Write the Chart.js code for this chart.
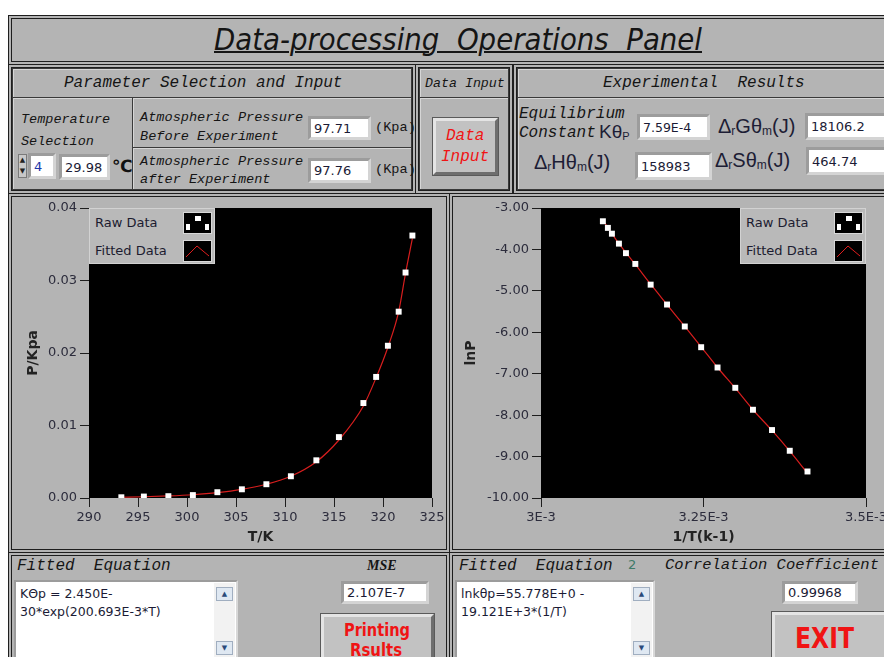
<!DOCTYPE html>
<html lang="en">
<head>
<meta charset="UTF-8">
<meta name="viewport" content="width=device-width, initial-scale=1.0">
<script src="https://cdn.jsdelivr.net/npm/chart.js@4.4.1/dist/chart.umd.min.js"></script>
<title>Data-processing Operations Panel</title>
<style>
body { margin:0; width:884px; height:657px; overflow:hidden; position:relative; background:#fff; font-family:"DejaVu Sans", sans-serif; }
#panel { position:absolute; left:8px; top:15px; width:900px; height:700px; background:#b4b4b4; }
.frm { position:absolute; box-sizing:border-box; border:4px double #1e1e1e; }
.cell { position:absolute; box-sizing:border-box; border:1px solid #3a3a3a; box-shadow:inset 1px 1px 0 #d6d6d6; }
.t { position:absolute; white-space:pre; line-height:1; }
.mono { font-family:"Liberation Mono","DejaVu Sans Mono",monospace; font-style:italic; color:#151515; }
.box { position:absolute; box-sizing:border-box; background:#fff; border:3px solid; border-color:#9c9c9c #d4d4d4 #d4d4d4 #9c9c9c; font-size:13px; color:#1b1b35; padding-left:3px; display:flex; align-items:center; white-space:pre; }
.btn { position:absolute; box-sizing:border-box; background:#c2c2c2; border:3px solid; border-color:#e4e4e4 #6e6e6e #6e6e6e #e4e4e4; outline:1px solid #5a5a5a; }
.sym { font-family:"Liberation Sans", sans-serif; font-size:20px; color:#1d1d35; }
.sym sub { font-size:12px; vertical-align:-2px; }
canvas { position:absolute; }
.lg { position:absolute; box-sizing:border-box; background:#b9b9b9; border:1px solid #d2d2d2; width:126px; height:56px; }
.lg span { position:absolute; left:5px; font-size:13px; color:#1c1c30; line-height:1; }
.lg svg { position:absolute; left:93px; }
.ta { position:absolute; box-sizing:border-box; background:#fff; border:2px solid; border-color:#9c9c9c #d8d8d8 #d8d8d8 #9c9c9c; font-size:12.5px; color:#1b1b35; }
.ta .line { position:absolute; left:4px; white-space:pre; line-height:1; }
.ta .sb { position:absolute; right:1px; top:1px; bottom:0; width:21px; background:#f2f2f2; }
.ta .ar { position:absolute; left:2px; width:15px; height:12px; background:#dfe8f2; border:1px solid #a0aec0; font-size:7px; text-align:center; color:#2a4a7a; line-height:12px; }
.red { color:#f01414; }
.narrow { font-family:"Liberation Sans Narrow","DejaVu Sans Condensed","Liberation Sans",sans-serif; }
</style>
</head>
<body>
<div id="panel"></div>

<!-- frames -->
<div class="frm" style="left:8px;top:15px;width:900px;height:50px"></div>
<div class="frm" style="left:8px;top:64px;width:408px;height:130px"></div>
<div class="frm" style="left:415px;top:64px;width:98px;height:130px"></div>
<div class="frm" style="left:513px;top:64px;width:400px;height:130px"></div>
<div class="frm" style="left:8px;top:193px;width:442px;height:360px"></div>
<div class="frm" style="left:449px;top:193px;width:460px;height:360px"></div>
<div class="frm" style="left:8px;top:552px;width:442px;height:120px"></div>
<div class="frm" style="left:449px;top:552px;width:460px;height:120px"></div>

<div class="cell" style="left:12px;top:68px;width:400px;height:30px"></div>
<div class="cell" style="left:12px;top:97px;width:121px;height:93px"></div>
<div class="cell" style="left:132px;top:97px;width:280px;height:51px"></div>
<div class="cell" style="left:132px;top:147px;width:280px;height:43px"></div>
<div class="cell" style="left:419px;top:68px;width:90px;height:30px"></div>
<div class="cell" style="left:419px;top:97px;width:90px;height:93px"></div>
<div class="cell" style="left:517px;top:68px;width:400px;height:30px"></div>
<div class="cell" style="left:517px;top:97px;width:400px;height:93px"></div>

<!-- title -->
<div id="ttl" class="t narrow" style="left:214px;top:24px;font-size:31px;font-style:italic;text-decoration:underline;text-decoration-thickness:2px;transform-origin:0 0;color:#151515">Data-processing  Operations  Panel</div>

<!-- parameter selection -->
<div class="t mono" style="left:64px;top:75px;font-size:16px">Parameter Selection and Input</div>
<div class="t mono" style="left:21px;top:113px;font-size:13.5px">Temperature</div>
<div class="t mono" style="left:21px;top:135px;font-size:13.5px">Selection</div>
<div style="position:absolute;left:18px;top:154px;width:9px;height:24px;background:#c8c8c8;border:1px solid #7a7a7a;box-sizing:border-box;font-size:7px;line-height:11px;text-align:center;color:#222">▲<br>▼</div>
<div class="box" style="left:28px;top:153px;width:28px;height:26px;color:#2036a8">4</div>
<div class="box" style="left:59px;top:154px;width:51px;height:26px">29.98</div>
<div class="t" style="left:112px;top:158px;font-size:17px;font-weight:bold;color:#111">℃</div>

<div class="t mono" style="left:140px;top:111px;font-size:13.6px">Atmospheric Pressure</div>
<div class="t mono" style="left:140px;top:130px;font-size:13.6px">Before Experiment</div>
<div class="box" style="left:308px;top:116px;width:63px;height:24px">97.71</div>
<div class="t mono" style="left:375px;top:121px;font-size:13.6px;font-style:normal">(Kpa)</div>
<div class="t mono" style="left:140px;top:155px;font-size:13.6px">Atmospheric Pressure</div>
<div class="t mono" style="left:140px;top:173px;font-size:13.6px">after Experiment</div>
<div class="box" style="left:308px;top:158px;width:63px;height:25px">97.76</div>
<div class="t mono" style="left:375px;top:163px;font-size:13.6px;font-style:normal">(Kpa)</div>

<!-- data input -->
<div class="t mono" style="left:425px;top:77px;font-size:13.3px">Data Input</div>
<div class="btn" style="left:433px;top:118px;width:65px;height:57px"></div>
<div class="t mono red" style="left:446px;top:128px;font-size:16px">Data</div>
<div class="t mono red" style="left:441px;top:149px;font-size:16px">Input</div>

<!-- experimental results -->
<div class="t mono" style="left:603px;top:75px;font-size:16px">Experimental  Results</div>
<div class="t mono" style="left:519px;top:106px;font-size:16px">Equilibrium</div>
<div class="t mono" style="left:519px;top:125px;font-size:16px">Constant</div>
<div class="t sym" style="left:599px;top:122px;font-size:19px">Kθ<sub style="font-size:11px">P</sub></div>
<div class="box" style="left:637px;top:114px;width:73px;height:26px;font-size:12.5px">7.59E-4</div>
<div class="t sym" style="left:718px;top:116px">Δ<sub>r</sub>Gθ<sub>m</sub>(J)</div>
<div class="box" style="left:805px;top:113px;width:90px;height:27px">18106.2</div>
<div class="t sym" style="left:534px;top:152px">Δ<sub>r</sub>Hθ<sub>m</sub>(J)</div>
<div class="box" style="left:635px;top:152px;width:77px;height:28px">158983</div>
<div class="t sym" style="left:715px;top:150px">Δ<sub>r</sub>Sθ<sub>m</sub>(J)</div>
<div class="box" style="left:806px;top:147px;width:90px;height:28px">464.74</div>

<!-- charts -->
<canvas id="chartP" width="432" height="348" style="left:12px;top:198px"></canvas>
<canvas id="chartLn" width="448" height="348" style="left:452px;top:198px"></canvas>

<div class="lg" style="left:89px;top:208px">
  <span style="top:7px">Raw Data</span>
  <svg style="top:3px" width="29" height="22"><rect x="0.5" y="0.5" width="28" height="21" fill="#000" stroke="#d8d8d8"/><rect x="12" y="4" width="6" height="5" fill="#fff"/><rect x="3" y="12" width="4" height="6" fill="#fff"/><rect x="22" y="12" width="4" height="6" fill="#fff"/></svg>
  <span style="top:35px">Fitted Data</span>
  <svg style="top:31px" width="29" height="22"><rect x="0.5" y="0.5" width="28" height="21" fill="#000" stroke="#d8d8d8"/><polyline points="3,17 14,6 26,16" fill="none" stroke="#e01e1e" stroke-width="1"/></svg>
</div>
<div class="lg" style="left:740px;top:208px">
  <span style="top:7px">Raw Data</span>
  <svg style="top:3px" width="29" height="22"><rect x="0.5" y="0.5" width="28" height="21" fill="#000" stroke="#d8d8d8"/><rect x="12" y="4" width="6" height="5" fill="#fff"/><rect x="3" y="12" width="4" height="6" fill="#fff"/><rect x="22" y="12" width="4" height="6" fill="#fff"/></svg>
  <span style="top:35px">Fitted Data</span>
  <svg style="top:31px" width="29" height="22"><rect x="0.5" y="0.5" width="28" height="21" fill="#000" stroke="#d8d8d8"/><polyline points="3,17 14,6 26,16" fill="none" stroke="#e01e1e" stroke-width="1"/></svg>
</div>

<!-- bottom left -->
<div class="t mono" style="left:17px;top:558px;font-size:16px">Fitted  Equation</div>
<div class="ta" style="left:14px;top:580px;width:224px;height:90px">
  <div class="line" style="top:6px">KΘp = 2.450E-</div>
  <div class="line" style="top:24px">30*exp(200.693E-3*T)</div>
  <div class="sb"><div class="ar" style="top:4px">▲</div><div class="ar" style="top:58px">▼</div></div>
</div>
<div class="t" style="left:367px;top:558px;font:italic bold 14px 'Liberation Serif',serif;color:#151515">MSE</div>
<div class="box" style="left:341px;top:581px;width:88px;height:23px">2.107E-7</div>
<div class="btn" style="left:321px;top:614px;width:113px;height:56px"></div>
<div id="pr1" class="t narrow red" style="left:344px;top:621px;font-size:18px;font-weight:bold;transform-origin:0 0">Printing</div>
<div id="pr2" class="t narrow red" style="left:350px;top:641px;font-size:18px;font-weight:bold;transform-origin:0 0">Rsults</div>

<!-- bottom right -->
<div class="t mono" style="left:459px;top:558px;font-size:16px">Fitted  Equation</div>
<div class="t" style="left:628px;top:558px;font-size:13px;color:#3f7a68">2</div>
<div class="ta" style="left:455px;top:580px;width:200px;height:90px">
  <div class="line" style="top:6px">lnkθp=55.778E+0 -</div>
  <div class="line" style="top:24px">19.121E+3*(1/T)</div>
  <div class="sb"><div class="ar" style="top:4px">▲</div><div class="ar" style="top:58px">▼</div></div>
</div>
<div class="t mono" style="left:665px;top:558px;font-size:15.5px">Correlation Coefficient</div>
<div class="box" style="left:782px;top:581px;width:76px;height:23px">0.99968</div>
<div class="btn" style="left:772px;top:612px;width:120px;height:60px"></div>
<div id="ex" class="t narrow red" style="left:795px;top:625px;font-size:28px;font-weight:bold;transform-origin:0 0">EXIT</div>

<script>
// raw and fitted data
var tempK  = [293.3, 295.6, 298.1, 300.6, 303.1, 305.6, 308.1, 310.6, 313.2, 315.5, 318.0, 319.3, 320.5, 321.6, 322.3, 323.0];
var pKpa   = [0.0001, 0.0002, 0.00025, 0.0004, 0.0008, 0.0012, 0.0019, 0.0030, 0.0052, 0.0084, 0.0131, 0.0167, 0.0210, 0.0257, 0.0311, 0.0362];
var pFit   = [0.0001, 0.00017, 0.00028, 0.00045, 0.00074, 0.0012, 0.0019, 0.0030, 0.0050, 0.0080, 0.0127, 0.0166, 0.0208, 0.0257, 0.0310, 0.0358];

var invT   = [0.0030952, 0.0031029, 0.0031091, 0.0031199, 0.0031307, 0.0031451, 0.0031687, 0.0031939, 0.0032212, 0.0032464, 0.0032716, 0.0032989, 0.0033261, 0.0033554, 0.0033827, 0.0034100];
var lnP    = [-3.32, -3.48, -3.62, -3.86, -4.09, -4.35, -4.85, -5.33, -5.86, -6.36, -6.85, -7.34, -7.87, -8.36, -8.86, -9.36];
var lnPFit = [-3.29, -3.47, -3.62, -3.86, -4.08, -4.36, -4.84, -5.33, -5.86, -6.35, -6.85, -7.35, -7.87, -8.37, -8.87, -9.40];

// tick labels
var tTicks = [290, 295, 300, 305, 310, 315, 320, 325];
var tLabels = ['290', '295', '300', '305', '310', '315', '320', '325'];
var pTicks = [0, 0.01, 0.02, 0.03, 0.04];
var pLabels = ['0.00', '0.01', '0.02', '0.03', '0.04'];
var invTTicks = [0.003, 0.00325, 0.0035];
var invTLabels = ['3E-3', '3.25E-3', '3.5E-3'];
var lnTicks = [-10, -9, -8, -7, -6, -5, -4, -3];
var lnLabels = ['-10.00', '-9.00', '-8.00', '-7.00', '-6.00', '-5.00', '-4.00', '-3.00'];

// black plot area
var plotBg = {
  id: 'plotBg',
  beforeDraw: function(chart) {
    var a = chart.chartArea, ctx = chart.ctx;
    ctx.save();
    ctx.fillStyle = '#000';
    ctx.fillRect(a.left, a.top, a.right - a.left, a.bottom - a.top);
    ctx.restore();
  }
};

function axis(min, max, vals, labels, title, titlePad, size, horiz) {
  return {
    type: 'linear', min: min, max: max,
    afterBuildTicks: function(s) { s.ticks = vals.map(function(v) { return {value: v}; }); },
    afterFit: function(s) {
      if (horiz) s.height = size; else s.width = size;
      s.paddingLeft = 0; s.paddingRight = 0; s.paddingTop = 0; s.paddingBottom = 0;
    },
    ticks: { autoSkip: false, maxRotation: 0, padding: 3, color: '#2c2c3c',
             font: {family: 'DejaVu Sans', size: 13},
             callback: function(v, i) { return labels[i]; } },
    grid: { drawOnChartArea: false, tickLength: 9, color: '#1e1e1e', lineWidth: 1 },
    border: { display: false },
    title: { display: true, text: title, color: '#222',
             font: {family: 'DejaVu Sans', size: 14, weight: 'bold'},
             padding: {top: titlePad, bottom: 0} }
  };
}

function BuildChart(id, xs, ys, fit, xAxis, yAxis, padRight) {
  var raw = xs.map(function(x, i) { return {x: x, y: ys[i]}; });
  var line = xs.map(function(x, i) { return {x: x, y: fit[i]}; });
  return new Chart(document.getElementById(id), {
    type: 'scatter',
    data: {
      datasets: [
        { label: 'Raw Data', data: raw, pointStyle: 'rect', pointRadius: 4.2,
          backgroundColor: '#fff', borderColor: '#fff', borderWidth: 0, showLine: false },
        { label: 'Fitted Data', data: line, showLine: true, pointRadius: 0,
          borderColor: '#d81e1e', borderWidth: 1.2, cubicInterpolationMode: 'monotone' }
      ]
    },
    options: {
      responsive: false, animation: false, events: [],
      layout: { padding: {top: 10, right: padRight, left: 0, bottom: 0} },
      plugins: { legend: {display: false}, tooltip: {enabled: false} },
      scales: { x: xAxis, y: yAxis }
    },
    plugins: [plotBg]
  });
}

BuildChart('chartP', tempK, pKpa, pFit,
  axis(290, 325, tTicks, tLabels, 'T/K', 0, 48, true),
  axis(0, 0.04, pTicks, pLabels, 'P/Kpa', 12.6, 77, false), 12);

BuildChart('chartLn', invT, lnP, lnPFit,
  axis(0.003, 0.0035, invTTicks, invTLabels, '1/T(k-1)', 0, 48, true),
  axis(-10, -3, lnTicks, lnLabels, 'lnP', 10.6, 89, false), 34);

// squeeze the narrow captions to their widths
function fitW(id, w) {
  var el = document.getElementById(id);
  el.style.transform = 'scaleX(' + (w / el.getBoundingClientRect().width) + ')';
}
fitW('ttl', 488);
fitW('pr1', 66);
fitW('pr2', 52);
fitW('ex', 59);
</script>
</body>
</html>
